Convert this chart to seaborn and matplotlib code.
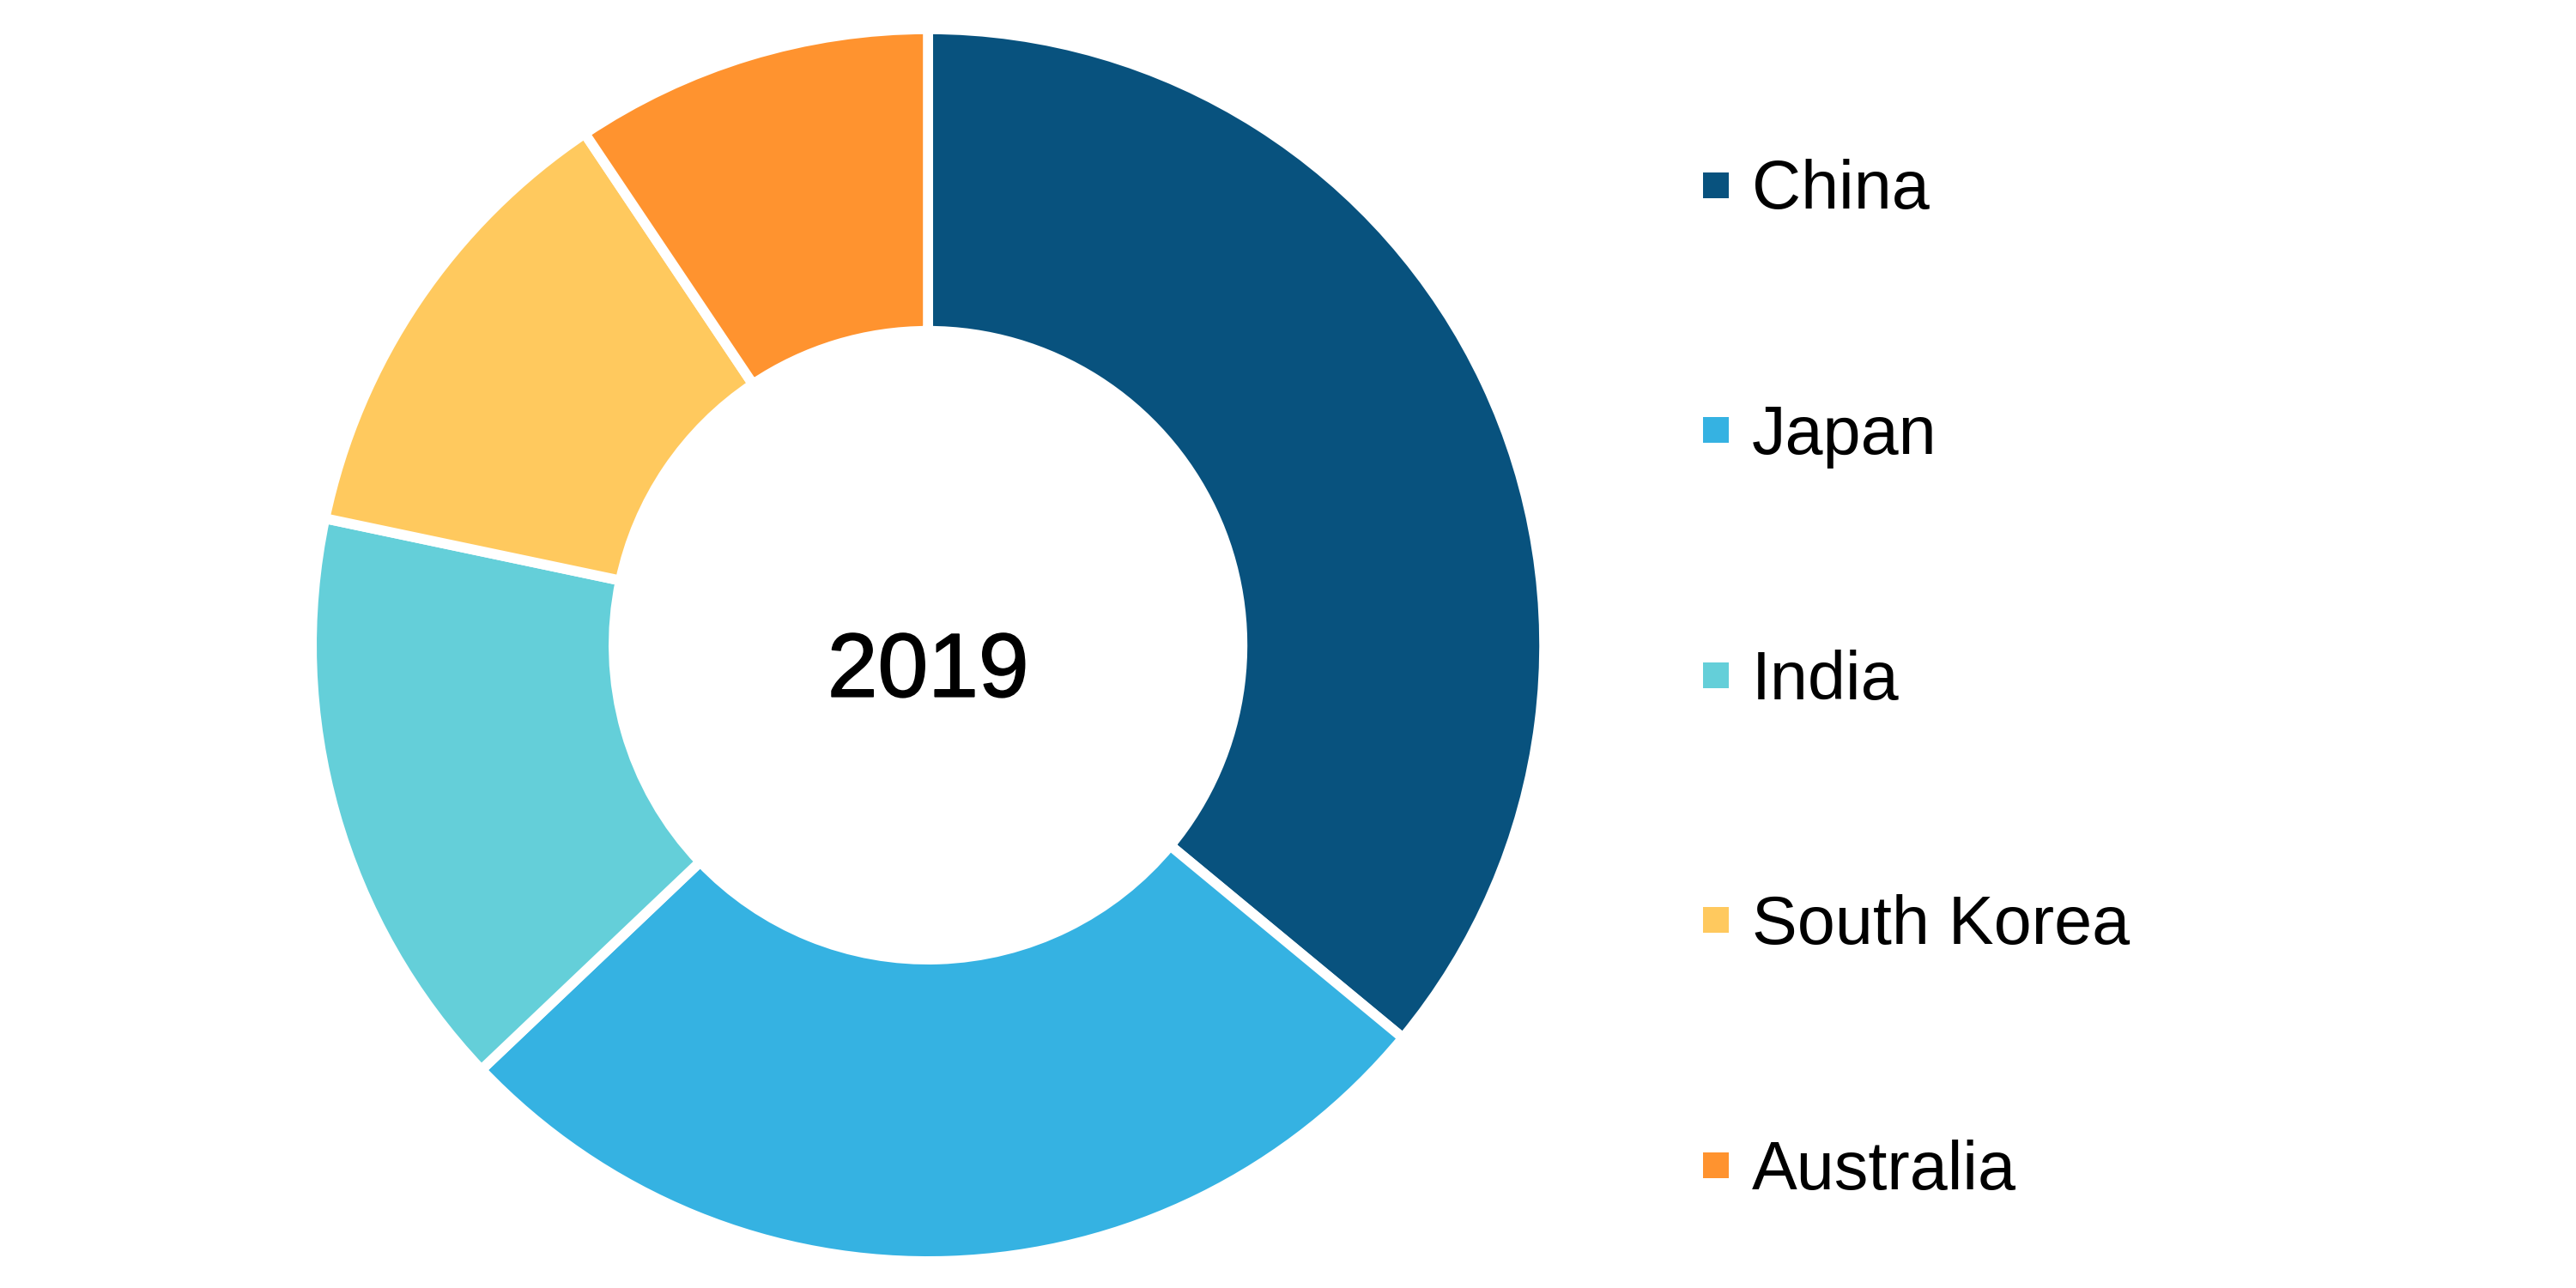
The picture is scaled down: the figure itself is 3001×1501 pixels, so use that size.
import matplotlib
matplotlib.use("Agg")
import matplotlib.pyplot as plt
import matplotlib.patheffects as pe
from matplotlib.lines import Line2D
import seaborn as sns

# share by country, 2019 (%)
countries = ["China", "Japan", "India", "South Korea", "Australia"]
shares = [36.0, 26.9, 15.4, 12.3, 9.4]
colors = ["#08527E", "#35B2E2", "#64CFD9", "#FFC95E", "#FF932F"]
center_label = "2019"

sns.set_theme(style="white")
plt.rcParams["font.family"] = ["Liberation Sans", "DejaVu Sans"]
plt.rcParams["text.color"] = "black"

palette = sns.color_palette(colors)

fig = plt.figure(figsize=(30.01, 15.01), dpi=100)
ax = fig.add_axes([0.121, 0.0207, 0.4785, 0.9567])

wedges, _ = ax.pie(
    shares,
    colors=palette,
    startangle=90,
    counterclock=False,
    radius=1.0,
    wedgeprops={"width": 0.49, "edgecolor": "white", "linewidth": 8.5},
)
ax.set_xlim(-1, 1)
ax.set_ylim(-1, 1)
ax.set_aspect("equal")
ax.axis("off")

ax.text(0, -0.045, center_label, ha="center", va="center", fontsize=76, color="black",
        path_effects=[pe.withStroke(linewidth=1.2, foreground="black")])

handles = [
    Line2D([], [], marker="s", linestyle="", markersize=22, markeredgewidth=0, color=c)
    for c in palette
]
fig.legend(
    handles,
    countries,
    loc="center left",
    bbox_to_anchor=(0.661, 0.471),
    frameon=False,
    fontsize=57,
    labelcolor="black",
    handlelength=0.4,
    handletextpad=0.32,
    labelspacing=2.66,
    borderpad=0,
    borderaxespad=0,
)

fig.savefig("out.png", dpi=100, facecolor="white")
plt.close(fig)
